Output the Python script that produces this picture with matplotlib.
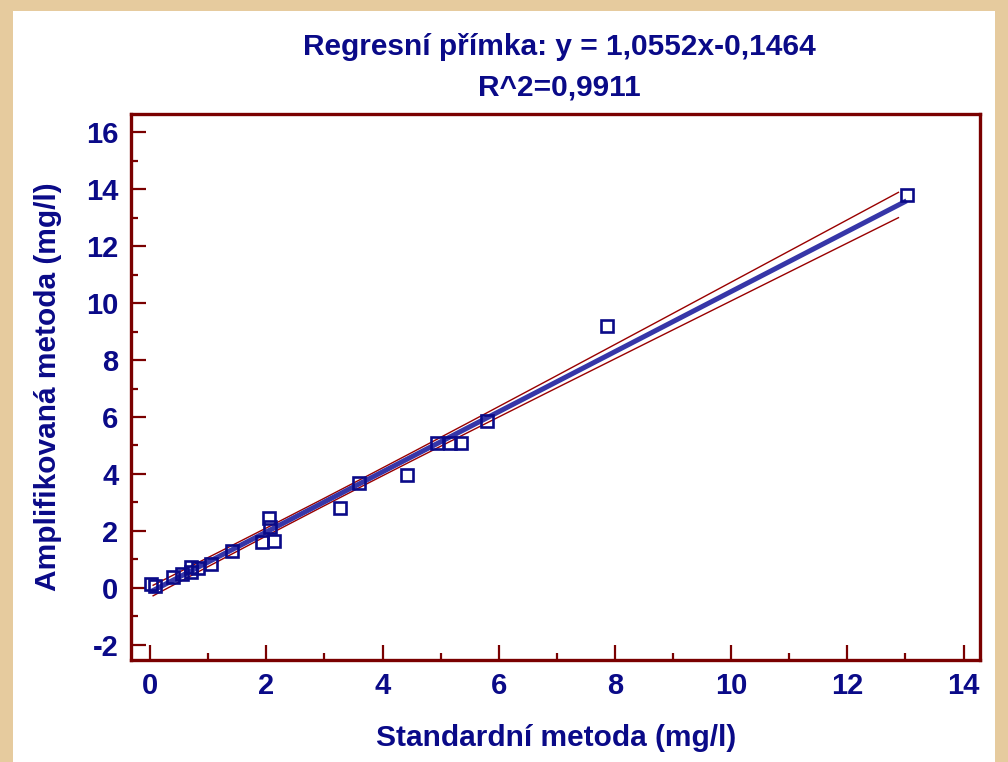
import numpy as np
import matplotlib
matplotlib.use("Agg")
import matplotlib.pyplot as plt
from matplotlib.patches import Rectangle
from matplotlib.ticker import MultipleLocator

# data
std_x = [0.02, 0.08, 0.40, 0.55, 0.70, 0.70, 0.83, 1.05, 1.41, 1.93, 2.05,
         2.06, 2.13, 3.27, 3.59, 4.42, 4.94, 5.16, 5.35, 5.80, 7.86, 13.02]
amp_y = [0.12, 0.05, 0.39, 0.50, 0.74, 0.55, 0.68, 0.84, 1.28, 1.62, 2.44,
         2.12, 1.66, 2.82, 3.68, 3.96, 5.09, 5.09, 5.09, 5.85, 9.19, 13.79]
slope = 1.0552
intercept = -0.1464
title_lines = ["Regresní přímka: y = 1,0552x-0,1464", "R^2=0,9911"]
x_label = "Standardní metoda (mg/l)"
y_label = "Amplifikovaná metoda (mg/l)"

navy = "#0a0a88"
darkred = "#7a0000"
plt.rcParams['font.family'] = ['Liberation Sans', 'DejaVu Sans']
plt.rcParams['font.weight'] = 'bold'
plt.rcParams['axes.unicode_minus'] = False

fig = plt.figure(figsize=(10.08, 7.62), dpi=100)
fig.patch.set_facecolor("#e6cb9e")
fig.patches.append(Rectangle((13 / 1008, 0), (995 - 13) / 1008, 751 / 762,
                             transform=fig.transFigure, facecolor="white",
                             edgecolor="none", zorder=-5))

ax = fig.add_axes([0.130, 0.134, 0.842, 0.716])
ax.set_facecolor("white")

x = np.array(std_x)
y = np.array(amp_y)
n = len(x)
xs = np.linspace(x.min(), x.max(), 200)
fit = slope * xs + intercept
resid = y - (slope * x + intercept)
s = np.sqrt(np.sum(resid ** 2) / (n - 2))
sxx = np.sum((x - x.mean()) ** 2)
xb = np.linspace(0.05, 12.88, 200)
hw = 1.75 * s * np.sqrt(1 / n + (xb - x.mean()) ** 2 / sxx)
fb = slope * xb + intercept

ax.plot(xb, fb + hw, color="#990000", lw=1.0, zorder=2)
ax.plot(xb, fb - hw, color="#990000", lw=1.0, zorder=2)
ax.plot(xs, fit, color="#3636a8", lw=3.6, zorder=3, solid_capstyle='butt')
ax.plot(x, y, linestyle="none", marker="s", markersize=8.8,
        markerfacecolor="none", markeredgecolor=navy, markeredgewidth=1.9,
        zorder=4)

ax.set_xlim(-0.33, 14.28)
ax.set_ylim(-2.53, 16.63)
ax.xaxis.set_major_locator(MultipleLocator(2))
ax.xaxis.set_minor_locator(MultipleLocator(1))
ax.yaxis.set_major_locator(MultipleLocator(2))
ax.yaxis.set_minor_locator(MultipleLocator(1))
ax.tick_params(which="both", direction="in", color=darkred, width=1.6,
               labelcolor=navy, labelsize=21)
ax.tick_params(which="major", length=11, pad=9)
ax.tick_params(which="minor", length=5)
for sp in ax.spines.values():
    sp.set_color(darkred)
    sp.set_linewidth(2.4)

fig.text(0.555, 1 - 47 / 762, title_lines[0], ha="center", va="center",
         color=navy, fontsize=21.5, fontweight="bold")
fig.text(0.555, 1 - 88 / 762, title_lines[1], ha="center", va="center",
         color=navy, fontsize=21.5, fontweight="bold")
fig.text(0.552, 1 - 738 / 762, x_label, ha="center", va="center",
         color=navy, fontsize=21.5, fontweight="bold")
fig.text(48 / 1008, 1 - 387 / 762, y_label, ha="center", va="center",
         rotation=90, color=navy, fontsize=21.5, fontweight="bold")

fig.savefig("out.png", dpi=100, facecolor=fig.get_facecolor())
